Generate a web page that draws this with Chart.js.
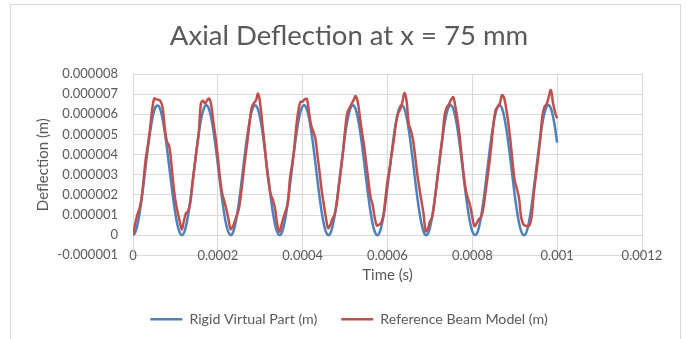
<!DOCTYPE html>
<html>
<head>
<meta charset="utf-8">
<script src="https://cdn.jsdelivr.net/npm/chart.js@4.4.1/dist/chart.umd.min.js"></script>
<style>
  body { margin: 0; background: #ffffff; }
  #wrap { position: relative; width: 686px; height: 339px; overflow: hidden; }
  #frame { position: absolute; left: 10px; top: 4px; width: 671px; height: 345px; border: 1px solid #d9d9d9; box-sizing: border-box; }
  #chart_deflection { position: absolute; left: 0; top: 0; }
</style>
</head>
<body>
<div id="wrap">
  <div id="frame"></div>
  <canvas id="chart_deflection" width="686" height="339"></canvas>
</div>
<script>
// timpul (s), pas de 5 microsecunde
var time_s = [
  0, 5e-6, 10e-6, 15e-6, 20e-6, 25e-6, 30e-6, 35e-6, 40e-6, 45e-6, 50e-6, 55e-6, 60e-6, 65e-6, 70e-6, 75e-6, 80e-6, 85e-6, 90e-6, 95e-6,
  100e-6, 105e-6, 110e-6, 115e-6, 120e-6, 125e-6, 130e-6, 135e-6, 140e-6, 145e-6, 150e-6, 155e-6, 160e-6, 165e-6, 170e-6, 175e-6, 180e-6, 185e-6, 190e-6, 195e-6,
  200e-6, 205e-6, 210e-6, 215e-6, 220e-6, 225e-6, 230e-6, 235e-6, 240e-6, 245e-6, 250e-6, 255e-6, 260e-6, 265e-6, 270e-6, 275e-6, 280e-6, 285e-6, 290e-6, 295e-6,
  300e-6, 305e-6, 310e-6, 315e-6, 320e-6, 325e-6, 330e-6, 335e-6, 340e-6, 345e-6, 350e-6, 355e-6, 360e-6, 365e-6, 370e-6, 375e-6, 380e-6, 385e-6, 390e-6, 395e-6,
  400e-6, 405e-6, 410e-6, 415e-6, 420e-6, 425e-6, 430e-6, 435e-6, 440e-6, 445e-6, 450e-6, 455e-6, 460e-6, 465e-6, 470e-6, 475e-6, 480e-6, 485e-6, 490e-6, 495e-6,
  500e-6, 505e-6, 510e-6, 515e-6, 520e-6, 525e-6, 530e-6, 535e-6, 540e-6, 545e-6, 550e-6, 555e-6, 560e-6, 565e-6, 570e-6, 575e-6, 580e-6, 585e-6, 590e-6, 595e-6,
  600e-6, 605e-6, 610e-6, 615e-6, 620e-6, 625e-6, 630e-6, 635e-6, 640e-6, 645e-6, 650e-6, 655e-6, 660e-6, 665e-6, 670e-6, 675e-6, 680e-6, 685e-6, 690e-6, 695e-6,
  700e-6, 705e-6, 710e-6, 715e-6, 720e-6, 725e-6, 730e-6, 735e-6, 740e-6, 745e-6, 750e-6, 755e-6, 760e-6, 765e-6, 770e-6, 775e-6, 780e-6, 785e-6, 790e-6, 795e-6,
  800e-6, 805e-6, 810e-6, 815e-6, 820e-6, 825e-6, 830e-6, 835e-6, 840e-6, 845e-6, 850e-6, 855e-6, 860e-6, 865e-6, 870e-6, 875e-6, 880e-6, 885e-6, 890e-6, 895e-6,
  900e-6, 905e-6, 910e-6, 915e-6, 920e-6, 925e-6, 930e-6, 935e-6, 940e-6, 945e-6, 950e-6, 955e-6, 960e-6, 965e-6, 970e-6, 975e-6, 980e-6, 985e-6, 990e-6, 995e-6,
  1000e-6
];

// Rigid Virtual Part (m)
var rigid_deflection = [
  0, 0.12e-6, 0.47e-6, 1.02e-6, 1.74e-6, 2.56e-6, 3.44e-6, 4.30e-6, 5.08e-6, 5.72e-6, 6.18e-6, 6.42e-6, 6.42e-6, 6.19e-6, 5.74e-6, 5.10e-6, 4.33e-6, 3.47e-6, 2.60e-6, 1.77e-6, 1.05e-6, 0.49e-6, 0.13e-6,
  0, 0.11e-6, 0.45e-6, 1.00e-6, 1.71e-6, 2.53e-6, 3.40e-6, 4.26e-6, 5.05e-6, 5.70e-6, 6.16e-6, 6.41e-6, 6.43e-6, 6.20e-6, 5.76e-6, 5.13e-6, 4.36e-6, 3.51e-6, 2.63e-6, 1.80e-6, 1.07e-6, 0.50e-6, 0.14e-6,
  0, 0.10e-6, 0.43e-6, 0.97e-6, 1.67e-6, 2.49e-6, 3.37e-6, 4.23e-6, 5.02e-6, 5.67e-6, 6.15e-6, 6.41e-6, 6.43e-6, 6.22e-6, 5.78e-6, 5.16e-6, 4.39e-6, 3.54e-6, 2.67e-6, 1.83e-6, 1.10e-6, 0.52e-6, 0.15e-6,
  0, 0.09e-6, 0.41e-6, 0.94e-6, 1.64e-6, 2.46e-6, 3.33e-6, 4.20e-6, 4.99e-6, 5.65e-6, 6.14e-6, 6.40e-6, 6.44e-6, 6.23e-6, 5.81e-6, 5.19e-6, 4.43e-6, 3.58e-6, 2.70e-6, 1.86e-6, 1.12e-6, 0.54e-6, 0.16e-6,
  0, 0.08e-6, 0.40e-6, 0.92e-6, 1.61e-6, 2.42e-6, 3.30e-6, 4.16e-6, 4.96e-6, 5.63e-6, 6.12e-6, 6.40e-6, 6.44e-6, 6.25e-6, 5.83e-6, 5.22e-6, 4.46e-6, 3.61e-6, 2.73e-6, 1.89e-6, 1.15e-6, 0.56e-6, 0.17e-6,
  0, 0.07e-6, 0.38e-6, 0.89e-6, 1.58e-6, 2.39e-6, 3.26e-6, 4.13e-6, 4.93e-6, 5.61e-6, 6.11e-6, 6.39e-6, 6.45e-6, 6.26e-6, 5.85e-6, 5.25e-6, 4.49e-6, 3.65e-6, 2.77e-6, 1.92e-6, 1.18e-6, 0.58e-6, 0.18e-6,
  0, 0.06e-6, 0.36e-6, 0.87e-6, 1.55e-6, 2.36e-6, 3.23e-6, 4.10e-6, 4.90e-6, 5.59e-6, 6.09e-6, 6.39e-6, 6.45e-6, 6.27e-6, 5.87e-6, 5.28e-6, 4.53e-6, 3.68e-6, 2.80e-6, 1.95e-6, 1.20e-6, 0.60e-6, 0.19e-6,
  0.01e-6, 0.05e-6, 0.34e-6, 0.84e-6, 1.52e-6, 2.32e-6, 3.19e-6, 4.06e-6, 4.87e-6, 5.56e-6, 6.08e-6, 6.38e-6, 6.45e-6, 6.29e-6, 5.89e-6, 5.30e-6, 4.56e-6, 3.72e-6, 2.84e-6, 1.99e-6, 1.23e-6, 0.62e-6, 0.20e-6,
  0.01e-6, 0.04e-6, 0.32e-6, 0.82e-6, 1.49e-6, 2.29e-6, 3.16e-6, 4.03e-6, 4.85e-6, 5.54e-6, 6.06e-6, 6.38e-6, 6.46e-6, 6.30e-6, 5.91e-6, 5.33e-6, 4.59e-6
];

// Reference Beam Model (m)
var beam_deflection = [
  0, 0.55e-6, 1.0e-6, 1.3e-6, 1.8e-6, 2.75e-6, 3.8e-6, 4.45e-6, 5.25e-6, 6.2e-6, 6.78e-6, 6.74e-6, 6.72e-6, 6.65e-6, 6.3e-6, 5.3e-6, 4.65e-6, 4.45e-6, 3.65e-6, 2.55e-6,
  1.74e-6, 1.16e-6, 0.7e-6, 0.28e-6, 0.7e-6, 1.1e-6, 1.2e-6, 1.6e-6, 2.55e-6, 3.4e-6, 4.25e-6, 5.05e-6, 6.53e-6, 6.67e-6, 6.53e-6, 6.7e-6, 6.78e-6, 6.37e-6, 5.54e-6, 4.8e-6,
  3.9e-6, 2.85e-6, 2.1e-6, 1.7e-6, 1.3e-6, 0.8e-6, 0.3e-6, 0.42e-6, 0.7e-6, 1.0e-6, 1.35e-6, 2.1e-6, 3.0e-6, 3.9e-6, 4.7e-6, 5.6e-6, 6.35e-6, 6.55e-6, 6.7e-6, 7.03e-6,
  6.5e-6, 5.5e-6, 4.5e-6, 3.4e-6, 2.6e-6, 2.0e-6, 1.74e-6, 1.3e-6, 0.55e-6, 0.17e-6, 0.5e-6, 0.9e-6, 1.2e-6, 1.6e-6, 2.8e-6, 3.5e-6, 4.3e-6, 5.4e-6, 6.2e-6, 6.62e-6,
  6.63e-6, 6.75e-6, 6.75e-6, 6.1e-6, 5.45e-6, 5.15e-6, 4.8e-6, 3.95e-6, 3.1e-6, 2.2e-6, 1.5e-6, 0.85e-6, 0.35e-6, 0.5e-6, 0.8e-6, 1.0e-6, 1.5e-6, 2.4e-6, 3.2e-6, 4.1e-6,
  5.2e-6, 6.05e-6, 6.3e-6, 6.5e-6, 6.7e-6, 6.9e-6, 6.6e-6, 5.85e-6, 5.1e-6, 4.4e-6, 3.55e-6, 2.7e-6, 1.9e-6, 1.5e-6, 0.85e-6, 0.48e-6, 0.52e-6, 0.6e-6, 0.95e-6, 1.8e-6,
  2.7e-6, 3.3e-6, 4.05e-6, 4.75e-6, 5.55e-6, 6.05e-6, 6.25e-6, 6.6e-6, 7.06e-6, 6.65e-6, 5.54e-6, 5.2e-6, 4.75e-6, 3.95e-6, 3.06e-6, 2.35e-6, 1.7e-6, 1.07e-6, 0.2e-6, 0.3e-6,
  0.68e-6, 0.88e-6, 1.55e-6, 2.4e-6, 3.25e-6, 4.1e-6, 4.95e-6, 6.0e-6, 6.35e-6, 6.5e-6, 6.73e-6, 6.85e-6, 6.37e-6, 5.75e-6, 4.95e-6, 3.9e-6, 2.95e-6, 2.2e-6, 1.8e-6, 1.45e-6,
  0.9e-6, 0.45e-6, 0.58e-6, 0.78e-6, 0.88e-6, 1.24e-6, 1.95e-6, 2.75e-6, 3.55e-6, 4.5e-6, 5.5e-6, 6.22e-6, 6.37e-6, 6.55e-6, 6.95e-6, 6.8e-6, 6.25e-6, 5.55e-6, 4.65e-6, 3.6e-6,
  2.7e-6, 2.3e-6, 1.85e-6, 0.9e-6, 0.55e-6, 0.47e-6, 0.45e-6, 0.5e-6, 0.95e-6, 2.1e-6, 2.95e-6, 3.8e-6, 4.75e-6, 5.9e-6, 6.37e-6, 6.5e-6, 6.85e-6, 7.2e-6, 6.6e-6, 6.1e-6,
  5.8e-6
];

var x_ticks = { min: 0, max: 0.0012, step: 0.0002 };
var y_ticks = { min: -0.000001, max: 0.000008, step: 0.000001 };

var textColor = '#595959';
var gridColor = '#d9d9d9';

function toPoints(xs, ys) {
    var pts = [];
    for (var i = 0; i < xs.length; ++i) {
        pts.push({ x: xs[i], y: ys[i] });
    }
    return pts;
}

var deflection_ctx = document.getElementById('chart_deflection').getContext('2d');
var deflection_config = {
    type: 'line',
    data: {
        datasets: [{
            // primul in lista se deseneaza deasupra
            label: 'Reference Beam Model (m)',
            data: toPoints(time_s, beam_deflection),
            borderColor: '#c0504d',
            backgroundColor: '#c0504d',
            borderWidth: 2.5,
            pointRadius: 0,
            tension: 0.4
        }, {
            label: 'Rigid Virtual Part (m)',
            data: toPoints(time_s, rigid_deflection),
            borderColor: '#4f81bd',
            backgroundColor: '#4f81bd',
            borderWidth: 2.5,
            pointRadius: 0,
            tension: 0.4
        }]
    },
    options: {
        responsive: false,
        animation: false,
        devicePixelRatio: 1,
        layout: { padding: { left: 56, right: 44, top: 0, bottom: 2.75 } },
        plugins: {
            title: {
                display: true,
                text: 'Axial Deflection at x = 75 mm',
                color: textColor,
                font: { family: 'Lato', size: 27.5, weight: 'normal' },
                padding: { top: 20, bottom: 21 }
            },
            legend: {
                position: 'bottom',
                reverse: true,
                labels: {
                    usePointStyle: true,
                    pointStyle: 'line',
                    pointStyleWidth: 32,
                    boxWidth: 32,
                    padding: 24,
                    color: textColor,
                    font: { family: 'Lato', size: 14.2 }
                }
            },
            tooltip: { enabled: false }
        },
        scales: {
            x: {
                type: 'linear',
                min: x_ticks.min,
                max: x_ticks.max,
                afterFit: function (scale) { scale.height = 32.75; },
                ticks: {
                    stepSize: x_ticks.step,
                    mirror: true,
                    padding: -8,
                    color: textColor,
                    font: { family: 'Lato', size: 13 },
                    callback: function (v) { return Math.abs(v) < 1e-12 ? '0' : String(+v.toFixed(4)); }
                },
                grid: { color: gridColor, drawTicks: false },
                border: { color: gridColor },
                title: {
                    display: true,
                    text: 'Time (s)',
                    color: textColor,
                    font: { family: 'Lato', size: 15 },
                    padding: { top: 0, bottom: 4 }
                }
            },
            y: {
                type: 'linear',
                min: y_ticks.min,
                max: y_ticks.max,
                afterFit: function (scale) { scale.width = 77; },
                ticks: {
                    stepSize: y_ticks.step,
                    padding: 15,
                    color: textColor,
                    font: { family: 'Lato', size: 13 },
                    callback: function (v) { return Math.abs(v) < 1e-12 ? '0' : v.toFixed(6); }
                },
                grid: { color: gridColor, drawTicks: false },
                border: { color: gridColor },
                title: {
                    display: true,
                    text: 'Deflection (m)',
                    color: textColor,
                    font: { family: 'Lato', size: 15 },
                    padding: { top: -22, bottom: 0 }
                }
            }
        }
    }
};

var deflection_chart = new Chart(deflection_ctx, deflection_config);
</script>
</body>
</html>
